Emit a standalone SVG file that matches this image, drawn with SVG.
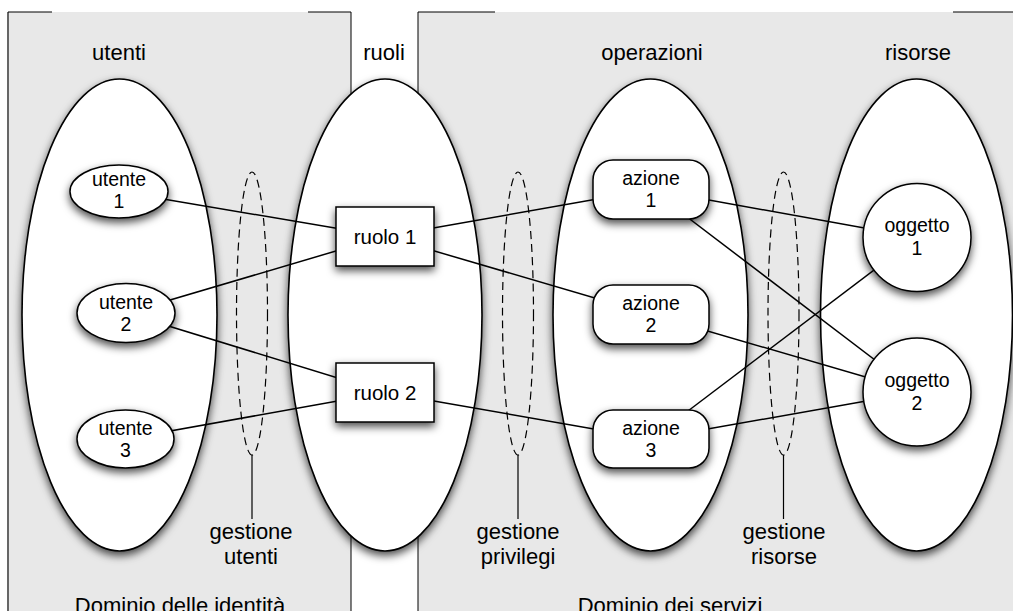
<svg xmlns="http://www.w3.org/2000/svg" width="1013" height="611" viewBox="0 0 1013 611">
  <defs>
    <filter id="shadow" x="-30%" y="-30%" width="160%" height="160%">
      <feDropShadow dx="0" dy="4" stdDeviation="4" flood-color="#000" flood-opacity="0.7"/>
    </filter>
  </defs>
  <style>
    text { font-family: "Liberation Sans", Helvetica, Arial, sans-serif; fill: #000; text-anchor: middle; }
    .hdr { font-size: 22px; }
    .lbl { font-size: 19.5px; }
    .role { font-size: 20.5px; }
    .panel { fill: #e8e8e8; stroke: none; }
    .frame { stroke: #000; stroke-width: 1; fill: none; }
    .frame-l { stroke: #666; stroke-width: 2; fill: none; }
    .area { fill: #fff; stroke: #000; stroke-width: 1.6; filter: url(#shadow); }
    .node { fill: #fff; stroke: #000; stroke-width: 1.5; filter: url(#shadow); }
    .scope { fill: none; stroke: #000; stroke-width: 1.2; stroke-dasharray: 8 5; }
    .tick { stroke: #000; stroke-width: 1.2; }
    #connectors line { stroke: #000; stroke-width: 1.5; }
  </style>

  <rect width="1013" height="611" fill="#fff"/>

  <!-- domain panels -->
  <g id="dominio-identita">
    <rect class="panel" x="8" y="12" width="343" height="620"/>
    <path class="frame-l" d="M8,12 V611"/>
    <path class="frame" d="M351,12 V611 M8,12 H52 M308,12 H351"/>
    <text class="hdr" x="180" y="613">Dominio delle identità</text>
  </g>
  <g id="dominio-servizi">
    <rect class="panel" x="418" y="12" width="600" height="620"/>
    <path class="frame" d="M418,12 V611 M418,12 H495 M953,12 H1013"/>
    <text class="hdr" x="670" y="613">Dominio dei servizi</text>
  </g>

  <!-- column areas -->
  <g id="utenti">
    <ellipse class="area" cx="119.5" cy="315" rx="97.5" ry="236"/>
    <text class="hdr" x="119" y="60">utenti</text>
  </g>
  <g id="ruoli">
    <ellipse class="area" cx="385" cy="315" rx="97" ry="236"/>
    <text class="hdr" x="384" y="60">ruoli</text>
  </g>
  <g id="operazioni">
    <ellipse class="area" cx="650.5" cy="315" rx="97.5" ry="236"/>
    <text class="hdr" x="652" y="60">operazioni</text>
  </g>
  <g id="risorse">
    <ellipse class="area" cx="916.5" cy="315" rx="96" ry="236"/>
    <text class="hdr" x="918" y="60">risorse</text>
  </g>

  <!-- management scopes -->
  <g id="gestione-utenti">
    <ellipse class="scope" cx="252" cy="313.5" rx="15.5" ry="141.5"/>
    <line class="tick" x1="252" y1="455" x2="252" y2="519"/>
    <text class="hdr" x="251" y="539">gestione</text>
    <text class="hdr" x="251" y="564">utenti</text>
  </g>
  <g id="gestione-privilegi">
    <ellipse class="scope" cx="518" cy="313.5" rx="15.5" ry="141.5"/>
    <line class="tick" x1="518" y1="455" x2="518" y2="519"/>
    <text class="hdr" x="518" y="539">gestione</text>
    <text class="hdr" x="518" y="564">privilegi</text>
  </g>
  <g id="gestione-risorse">
    <ellipse class="scope" cx="783.5" cy="313.5" rx="15.5" ry="141.5"/>
    <line class="tick" x1="783.5" y1="455" x2="783.5" y2="519"/>
    <text class="hdr" x="784" y="539">gestione</text>
    <text class="hdr" x="784" y="564">risorse</text>
  </g>

  <!-- links, centre to centre; the nodes drawn after cover the ends -->
  <g id="connectors">
    <line x1="119" y1="191.5" x2="385" y2="236.5"/>
    <line x1="126" y1="313" x2="385" y2="236.5"/>
    <line x1="126" y1="313" x2="385" y2="392.5"/>
    <line x1="125.5" y1="439" x2="385" y2="392.5"/>
    <line x1="385" y1="236.5" x2="651" y2="189.5"/>
    <line x1="385" y1="236.5" x2="651" y2="314.5"/>
    <line x1="385" y1="392.5" x2="651" y2="439"/>
    <line x1="651" y1="189.5" x2="917" y2="237.5"/>
    <line x1="651" y1="189.5" x2="917" y2="392"/>
    <line x1="651" y1="314.5" x2="917" y2="392"/>
    <line x1="651" y1="439" x2="917" y2="237.5"/>
    <line x1="651" y1="439" x2="917" y2="392"/>
  </g>

  <!-- users -->
  <g id="utente-1">
    <ellipse class="node" cx="119" cy="191.5" rx="49" ry="26.5"/>
    <text class="lbl" x="119" y="186">utente</text>
    <text class="lbl" x="119" y="208">1</text>
  </g>
  <g id="utente-2">
    <ellipse class="node" cx="126" cy="313" rx="49" ry="29.5"/>
    <text class="lbl" x="126" y="309">utente</text>
    <text class="lbl" x="126" y="331">2</text>
  </g>
  <g id="utente-3">
    <ellipse class="node" cx="125.5" cy="439" rx="48.5" ry="29"/>
    <text class="lbl" x="125.5" y="435">utente</text>
    <text class="lbl" x="125.5" y="457">3</text>
  </g>

  <!-- roles -->
  <g id="ruolo-1">
    <rect class="node" x="336" y="207" width="98" height="59"/>
    <text class="role" x="385" y="244">ruolo 1</text>
  </g>
  <g id="ruolo-2">
    <rect class="node" x="336" y="363" width="98" height="59"/>
    <text class="role" x="385" y="400">ruolo 2</text>
  </g>

  <!-- actions -->
  <g id="azione-1">
    <rect class="node" x="593" y="160" width="116" height="59" rx="20" ry="20"/>
    <text class="lbl" x="651" y="185">azione</text>
    <text class="lbl" x="651" y="207">1</text>
  </g>
  <g id="azione-2">
    <rect class="node" x="593" y="285" width="116" height="59" rx="20" ry="20"/>
    <text class="lbl" x="651" y="310">azione</text>
    <text class="lbl" x="651" y="332">2</text>
  </g>
  <g id="azione-3">
    <rect class="node" x="593" y="410" width="116" height="58" rx="20" ry="20"/>
    <text class="lbl" x="651" y="435">azione</text>
    <text class="lbl" x="651" y="457">3</text>
  </g>

  <!-- objects -->
  <g id="oggetto-1">
    <circle class="node" cx="917" cy="237.5" r="54"/>
    <text class="lbl" x="917" y="232">oggetto</text>
    <text class="lbl" x="917" y="255">1</text>
  </g>
  <g id="oggetto-2">
    <circle class="node" cx="917" cy="392" r="54"/>
    <text class="lbl" x="917" y="387">oggetto</text>
    <text class="lbl" x="917" y="410">2</text>
  </g>
</svg>
